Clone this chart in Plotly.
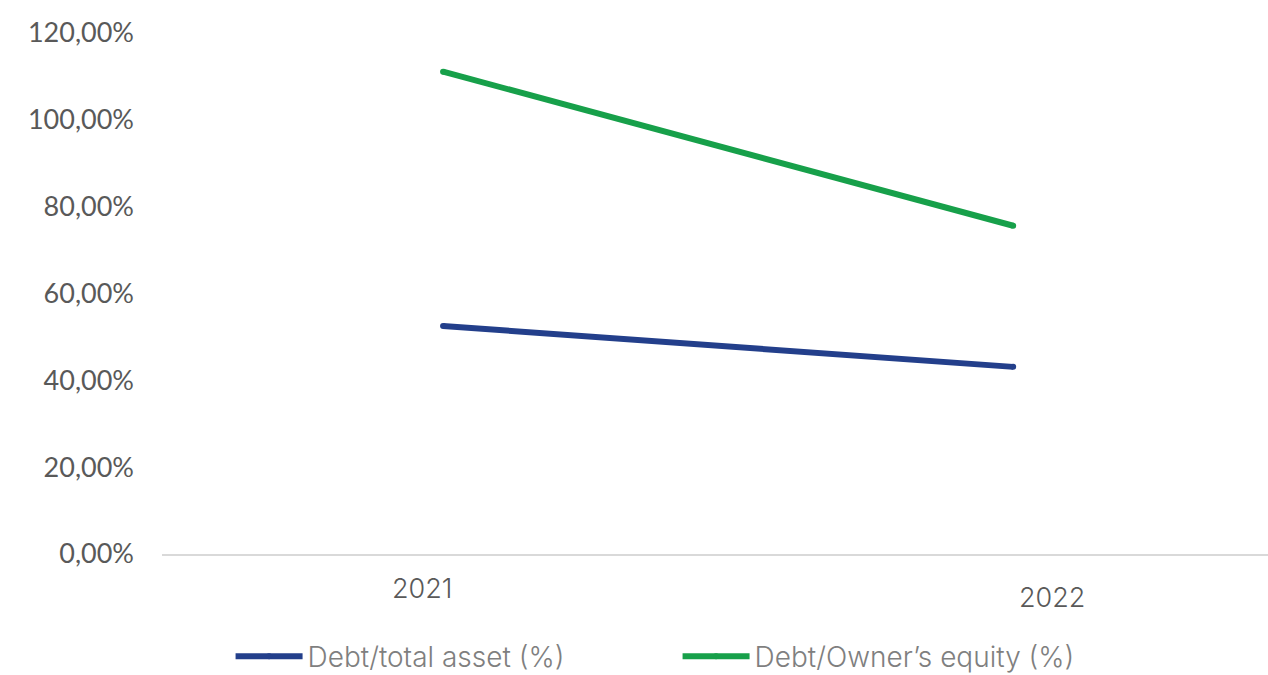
import plotly.graph_objects as go

years = ["2021", "2022"]
debt_total_asset = [52.5, 43.1]
debt_owner_equity = [111.1, 75.6]
y_ticks = [0, 20, 40, 60, 80, 100, 120]
y_tick_text = [f"{v:.2f}".replace(".", ",") + "%" for v in y_ticks]

series = [
    ("Debt/total asset (%)", debt_total_asset, "#233F8B"),
    ("Debt/Owner’s equity (%)", debt_owner_equity, "#17A04A"),
]

fig = go.Figure()
for name, vals, color in series:
    fig.add_trace(go.Scatter(
        x=years, y=vals, name=name, mode="lines+markers",
        line=dict(color=color, width=6),
        marker=dict(color=color, size=6, line=dict(width=0)),
    ))

# category labels drawn as annotations so each can sit at its own offset
label_xshift = [-21, 39]
label_yshift = [-34, -43]
for i, (yr, dx, dy) in enumerate(zip(years, label_xshift, label_yshift)):
    fig.add_annotation(x=i, xref="x", y=0, yref="y", text=yr, showarrow=False,
                       xshift=dx, yshift=dy,
                       font=dict(family="Inter", size=27, color="#595959", weight=300))

fig.update_layout(
    width=1268, height=675,
    margin=dict(l=162, r=0, t=33, b=121, autoexpand=False),
    plot_bgcolor="white", paper_bgcolor="white",
    showlegend=True,
    legend=dict(orientation="h", x=0.062, xanchor="left", y=-0.197, yanchor="middle",
                font=dict(family="Inter", size=28, color="#7F7F7F", weight=300),
                itemwidth=67, entrywidth=365, entrywidthmode="pixels",
                bgcolor="rgba(0,0,0,0)",
                itemclick=False, traceorder="normal"),
    xaxis=dict(type="category", range=[-0.493, 1.447], showticklabels=False,
               showgrid=False, showline=True, linecolor="#D9D9D9", linewidth=2,
               zeroline=False),
    yaxis=dict(range=[0, 120], tickmode="array", tickvals=y_ticks, ticktext=y_tick_text,
               showgrid=False, zeroline=False, showline=False,
               ticklabelstandoff=27,
               tickfont=dict(family="Lato", size=27, color="#595959")),
)

fig.write_html("out.html")
